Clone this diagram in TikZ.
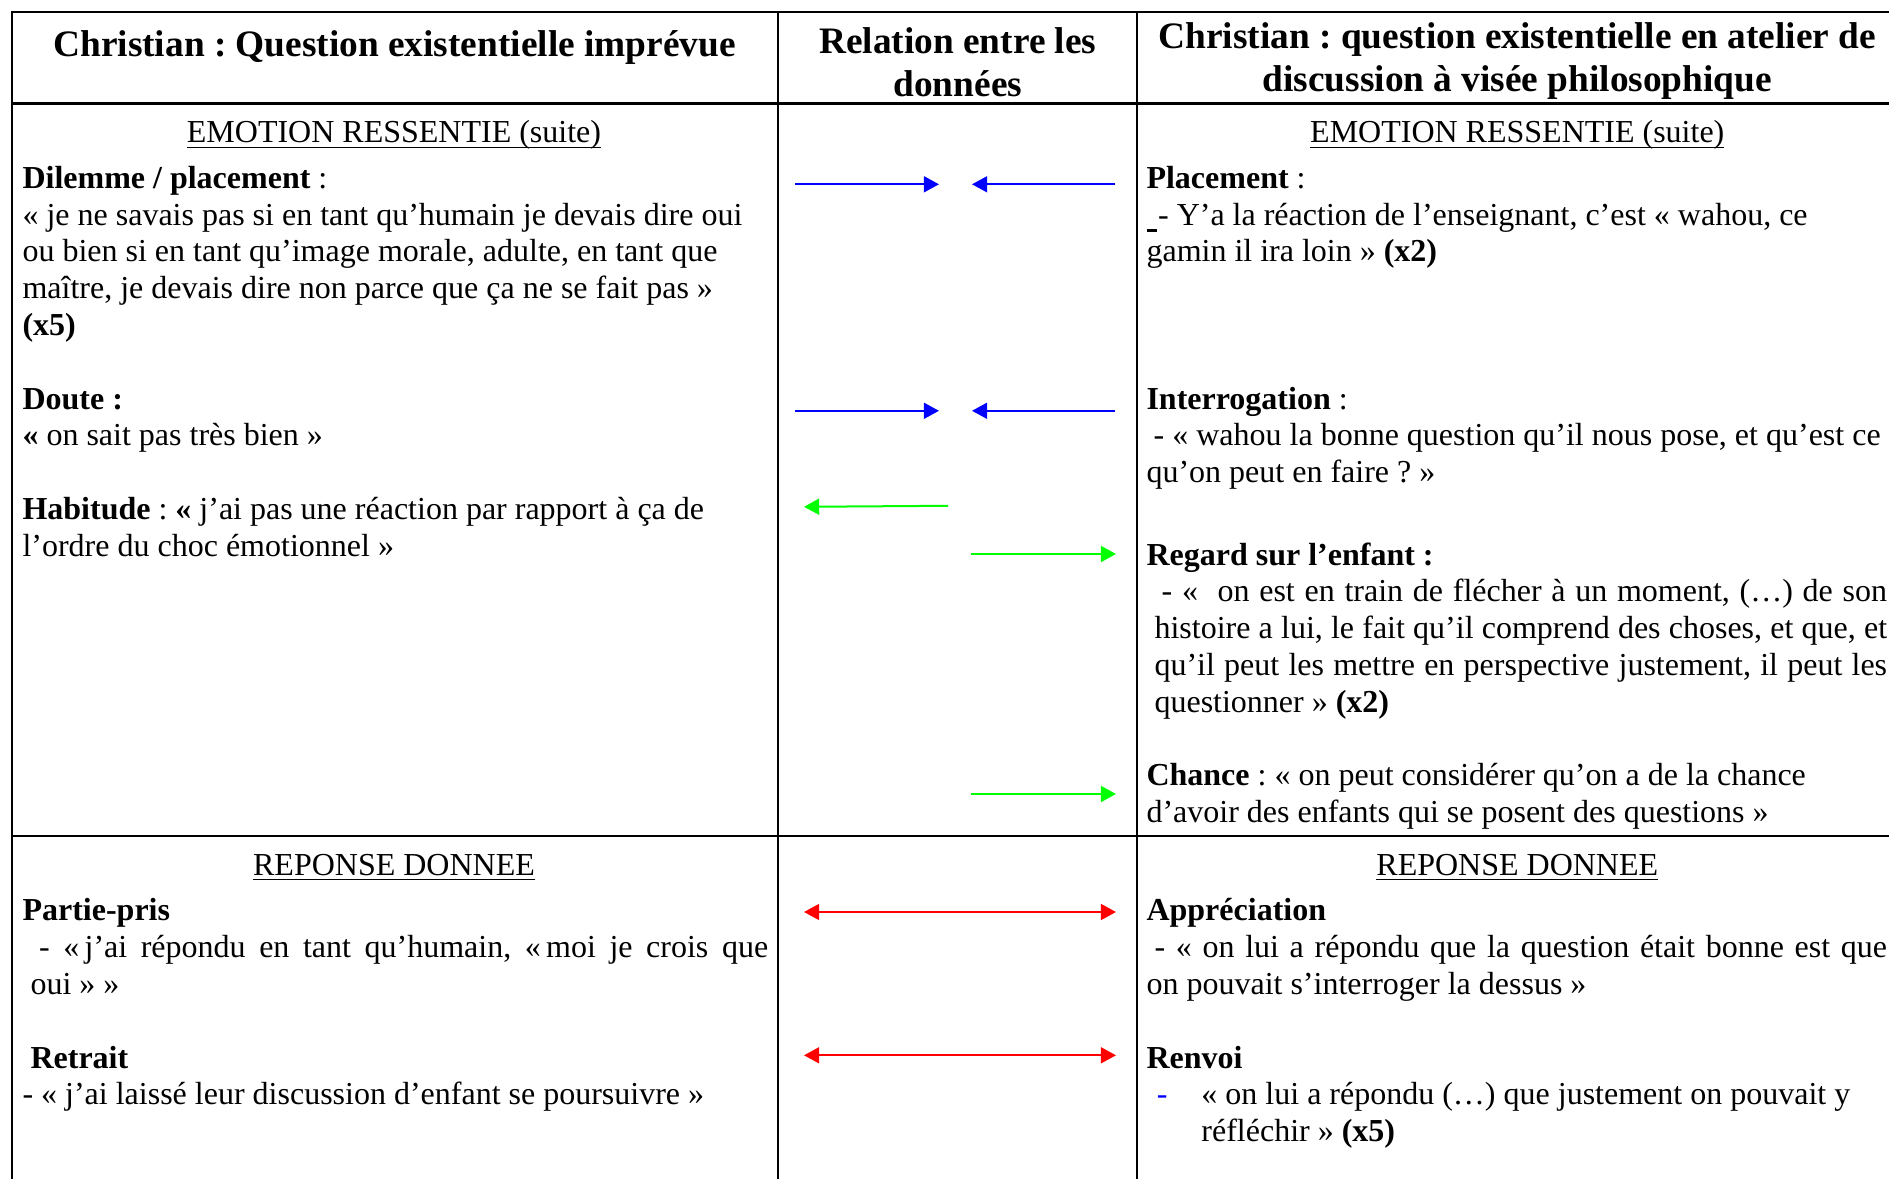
\documentclass[tikz,border=0pt]{standalone}
\usepackage{fontspec}
\setmainfont{Liberation Serif}
\usetikzlibrary{arrows.meta}
\frenchspacing

\newcommand{\etai}{\rule{0pt}{1em}}
\newcommand{\souligne}[1]{\setbox0\hbox{#1}\rlap{\rule[-2pt]{\wd0}{0.6pt}}\box0}

\tikzset{
	trait/.style={line width=0.9pt, line cap=rect},
	fleche/.style={line width=0.75pt, -{Triangle[length=5.7pt,width=6pt]}},
	flechedbl/.style={line width=0.75pt, {Triangle[length=5.7pt,width=6pt]}-{Triangle[length=5.7pt,width=6pt]}},
	entete/.style={inner sep=0pt, font=\fontsize{14}{16.1}\selectfont\bfseries},
	titre/.style={anchor=base, inner sep=0pt, font=\fontsize{12}{13.8}\selectfont},
	bloc/.style={anchor=north west, inner sep=0pt, align=left, font=\fontsize{12}{13.8}\selectfont},
}

\begin{document}
\begin{tikzpicture}[x=0.375pt, y=-0.375pt]
	\useasboundingbox (0,0) rectangle (1889,1179);
	\clip (0,0) rectangle (1889,1179);
	% Cadre du tableau
	\foreach \y in {12,103.6,836}
		\draw[trait] (12,\y) -- (1900,\y);
	\foreach \x in {12,778.2,1137.2,1897}
		\draw[trait] (\x,12) -- (\x,1200);
	% Titres des colonnes
	\node[entete, anchor=base] (titreG) at (394.5,57) {Christian : Question existentielle imprévue};
	\node[entete, anchor=north, align=center] (titreM) at (957.8,15.5) {\etai Relation entre les\\
	données};
	\node[entete, anchor=north, align=center] (titreD) at (1517.3,10.6) {\etai Christian : question existentielle en atelier de\\
	discussion à visée philosophique};
	% Emotion ressentie
	\node[titre] (emoG) at (394,143) {\souligne{EMOTION RESSENTIE (suite)}};
	\node[titre] (emoD) at (1517.3,143) {\souligne{EMOTION RESSENTIE (suite)}};
	\node[bloc] (dilemme) at (22,155.8) {\etai\textbf{Dilemme / placement} :\\
	« je ne savais pas si en tant qu’humain je devais dire oui\\
	ou bien si en tant qu’image morale, adulte, en tant que\\
	maître, je devais dire non parce que ça ne se fait pas »\\
	\textbf{(x5)}};
	\node[bloc] (doute) at (22,376.6) {\etai\textbf{Doute :}\\
	\textbf{«} on sait pas très bien »};
	\node[bloc] (habitude) at (22,487) {\etai\textbf{Habitude} : \textbf{«} j’ai pas une réaction par rapport à ça de\\
	l’ordre du choc émotionnel »};
	\node[bloc] (placement) at (1146,155.8) {\etai\textbf{Placement} :\\
	\rule[-2.6pt]{3.75pt}{1.1pt}\hspace{0.6pt}- Y’a la réaction de l’enseignant, c’est « wahou, ce\\
	gamin il ira loin » \textbf{(x2)}};
	\node[bloc] (interrogation) at (1146,376.6) {\etai\textbf{Interrogation} :\\
	\hspace*{2.7pt}- « wahou la bonne question qu’il nous pose, et qu’est ce\\
	qu’on peut en faire ? »};
	\node[bloc] (regard) at (1146,532.6) {\etai\textbf{Regard sur l’enfant :}\\
	\hspace*{5.7pt}\makebox[272pt][s]{- «\ \ on est en train de flécher à un moment, (…) de son}\\
	\hspace*{3pt}\makebox[274.7pt][s]{histoire a lui, le fait qu’il comprend des choses, et que, et}\\
	\hspace*{3pt}\makebox[274.7pt][s]{qu’il peut les mettre en perspective justement, il peut les}\\
	\hspace*{3pt}questionner » \textbf{(x2)}};
	\node[bloc] (chance) at (1146,753.4) {\etai\textbf{Chance} : « on peut considérer qu’on a de la chance\\
	d’avoir des enfants qui se posent des questions »};
	% Reponse donnee
	\node[titre] (repG) at (394,875) {\souligne{REPONSE DONNEE}};
	\node[titre] (repD) at (1517.3,875) {\souligne{REPONSE DONNEE}};
	\node[bloc] (partiepris) at (22,888.4) {\etai\textbf{Partie-pris}\\
	\hspace*{6.2pt}\makebox[273.4pt][s]{- «\,j’ai répondu en tant qu’humain, «\,moi je crois que}\\
	\hspace*{3pt}oui » »};
	\node[bloc] (retrait) at (22,1035.6) {\etai\hspace*{3pt}\textbf{Retrait}\\
	- « j’ai laissé leur discussion d’enfant se poursuivre »};
	\node[bloc] (appreciation) at (1146,888.4) {\etai\textbf{Appréciation}\\
	\hspace*{3pt}\makebox[274.7pt][s]{- « on lui a répondu que la question était bonne est que}\\
	on pouvait s’interroger la dessus »};
	\node[bloc] (renvoi) at (1146,1035.6) {\etai\textbf{Renvoi}\\
	\hspace*{3.9pt}\makebox[16.7pt][l]{\textcolor{blue}{-}}« on lui a répondu (…) que justement on pouvait y\\
	\hspace*{20.6pt}réfléchir » \textbf{(x5)}};
	% Fleches bleues
	\foreach \y/\n in {184.3/a, 410.8/b} {
		\coordinate (bleuG\n) at (795,\y);
		\coordinate (bleuM\n) at (939,\y);
		\coordinate (bleuN\n) at (972,\y);
		\coordinate (bleuD\n) at (1115,\y);
		\draw[fleche, blue] (bleuG\n) -- (bleuM\n);
		\draw[fleche, blue] (bleuD\n) -- (bleuN\n);
	}
	% Fleches vertes
	\coordinate (vertA) at (948,505.8);
	\coordinate (vertB) at (804,506.8);
	\draw[fleche, green] (vertA) -- (vertB);
	\foreach \y/\n in {554/c, 794/d} {
		\coordinate (vertG\n) at (971,\y);
		\coordinate (vertD\n) at (1116,\y);
		\draw[fleche, green] (vertG\n) -- (vertD\n);
	}
	% Fleches rouges
	\foreach \y/\n in {912/e, 1055.3/f} {
		\coordinate (rougeG\n) at (804,\y);
		\coordinate (rougeD\n) at (1116,\y);
		\draw[flechedbl, red] (rougeG\n) -- (rougeD\n);
	}
\end{tikzpicture}
\end{document}
